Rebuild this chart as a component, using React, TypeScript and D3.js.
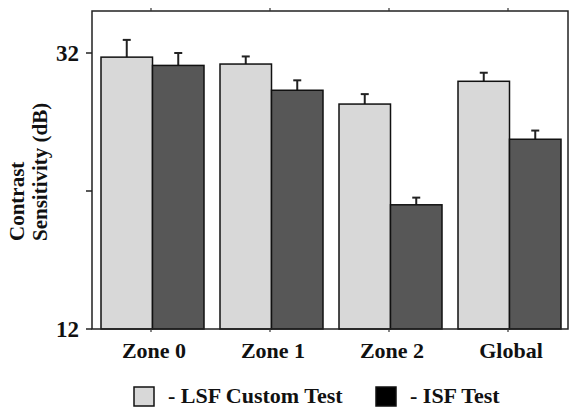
import React, { useRef, useEffect } from 'react';
import * as d3 from 'd3';

const categories = ['Zone 0', 'Zone 1', 'Zone 2', 'Global'];
const lsfValues = [31.7, 31.2, 28.3, 29.95];
const lsfErrors = [1.25, 0.55, 0.72, 0.62];
const isfValues = [31.1, 29.3, 21.0, 25.75];
const isfErrors = [0.9, 0.72, 0.52, 0.63];
const yTicks = [12, 22, 32];
const yTickLabels = ['12', '', '32'];

const FONT = '"Liberation Serif", "Times New Roman", serif';

const ContrastChart: React.FC = () => {
  const svgRef = useRef<SVGSVGElement | null>(null);

  useEffect(() => {
    const svg = d3.select(svgRef.current!);
    svg.selectAll('*').remove();

    const left = 92, right = 568, top = 11, bottom = 329;

    const x = d3.scaleBand<string>()
      .domain(categories)
      .range([left + 1, right + 1])
      .paddingInner(16 / 119)
      .paddingOuter(8 / 119);

    const sub = d3.scaleBand<string>()
      .domain(['lsf', 'isf'])
      .range([0, x.bandwidth()]);

    const y = d3.scaleLinear().domain([12, 32]).range([bottom, 53]);

    const series = [
      { key: 'lsf', values: lsfValues, errors: lsfErrors, fill: '#d8d8d8' },
      { key: 'isf', values: isfValues, errors: isfErrors, fill: '#575757' },
    ];

    const groups = svg.append('g')
      .selectAll('g')
      .data(categories)
      .join('g')
      .attr('transform', (d) => `translate(${x(d)},0)`);

    series.forEach((s) => {
      // error bars drawn first so the bar outline sits on top
      groups.append('line')
        .attr('x1', sub(s.key)! + sub.bandwidth() / 2)
        .attr('x2', sub(s.key)! + sub.bandwidth() / 2)
        .attr('y1', (_, i) => y(s.values[i]))
        .attr('y2', (_, i) => y(s.values[i] + s.errors[i]))
        .attr('stroke', '#222')
        .attr('stroke-width', 2);
      groups.append('line')
        .attr('x1', sub(s.key)! + sub.bandwidth() / 2 - 4)
        .attr('x2', sub(s.key)! + sub.bandwidth() / 2 + 4)
        .attr('y1', (_, i) => y(s.values[i] + s.errors[i]))
        .attr('y2', (_, i) => y(s.values[i] + s.errors[i]))
        .attr('stroke', '#222')
        .attr('stroke-width', 2);
      groups.append('rect')
        .attr('x', sub(s.key)!)
        .attr('width', sub.bandwidth())
        .attr('y', (_, i) => y(s.values[i]))
        .attr('height', (_, i) => bottom - y(s.values[i]))
        .attr('fill', s.fill)
        .attr('stroke', '#111')
        .attr('stroke-width', 1.5);
    });

    // frame
    svg.append('rect')
      .attr('x', left)
      .attr('y', top)
      .attr('width', right - left)
      .attr('height', bottom - top)
      .attr('fill', 'none')
      .attr('stroke', '#222')
      .attr('stroke-width', 1.5);

    // y ticks
    const yAxis = svg.append('g');
    yTicks.forEach((t, i) => {
      yAxis.append('line')
        .attr('x1', left - 6).attr('x2', left)
        .attr('y1', y(t)).attr('y2', y(t))
        .attr('stroke', '#222').attr('stroke-width', 1.5);
      if (yTickLabels[i]) {
        yAxis.append('text')
          .attr('x', left - 13)
          .attr('y', y(t))
          .attr('dy', '0.36em')
          .attr('text-anchor', 'end')
          .attr('font-family', FONT)
          .attr('font-weight', 'bold')
          .attr('font-size', 23)
          .attr('fill', '#111')
          .text(yTickLabels[i]);
      }
    });

    // x ticks top and bottom, category labels
    categories.forEach((c) => {
      const cx = x(c)! + x.bandwidth() / 2 - 1.5;
      svg.append('line')
        .attr('x1', cx).attr('x2', cx)
        .attr('y1', bottom).attr('y2', bottom + 3)
        .attr('stroke', '#333').attr('stroke-width', 1.2);
      svg.append('line')
        .attr('x1', cx).attr('x2', cx)
        .attr('y1', top - 3).attr('y2', top)
        .attr('stroke', '#333').attr('stroke-width', 1.2);
      svg.append('text')
        .attr('x', cx + 3)
        .attr('y', 358)
        .attr('text-anchor', 'middle')
        .attr('font-family', FONT)
        .attr('font-weight', 'bold')
        .attr('font-size', 22)
        .attr('fill', '#111')
        .text(c);
    });

    // y axis title
    const yTitle = svg.append('text')
      .attr('transform', 'translate(0,241) rotate(-90)')
      .attr('font-family', FONT)
      .attr('font-weight', 'bold')
      .attr('font-size', 21)
      .attr('fill', '#111');
    yTitle.append('tspan').attr('x', 0).attr('y', 24).text('Contrast');
    yTitle.append('tspan').attr('x', 0).attr('y', 47).text('Sensitivity (dB)');

    // legend
    const legend = [
      { label: '- LSF Custom Test', fill: '#d8d8d8', x: 134 },
      { label: '- ISF Test', fill: '#000', x: 376 },
    ];
    legend.forEach((l) => {
      svg.append('rect')
        .attr('x', l.x).attr('y', 387)
        .attr('width', 20).attr('height', 19)
        .attr('fill', l.fill)
        .attr('stroke', '#111').attr('stroke-width', 1.5);
      svg.append('text')
        .attr('x', l.x + 34)
        .attr('y', 403)
        .attr('font-family', FONT)
        .attr('font-weight', 'bold')
        .attr('font-size', 22)
        .attr('fill', '#111')
        .text(l.label);
    });
  }, []);

  return (
    <svg
      ref={svgRef}
      width={569}
      height={408}
      style={{ position: 'absolute', left: 0, top: 0, background: '#fff' }}
    ></svg>
  );
};

export default function App() {
  return <ContrastChart />;
}
